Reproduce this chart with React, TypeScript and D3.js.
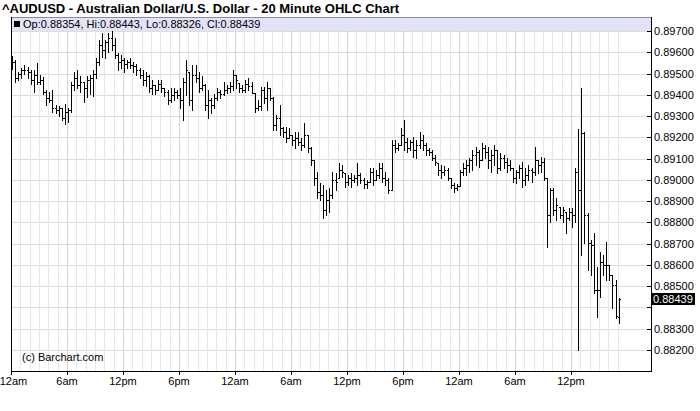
import React from 'react';
import * as d3 from 'd3';

const TITLE = '^AUDUSD - Australian Dollar/U.S. Dollar - 20 Minute OHLC Chart';
const LEGEND = 'Op:0.88354, Hi:0.88443, Lo:0.88326, Cl:0.88439';
const COPYRIGHT = '(c) Barchart.com';
const BAR_MINUTES = 20;
const LAST_PRICE = 0.88439;

const priceTicks = [0.897, 0.896, 0.895, 0.894, 0.893, 0.892, 0.891, 0.89, 0.889, 0.888, 0.887, 0.886, 0.885, 0.884, 0.883, 0.882];
const timeTickHours = [0, 6, 12, 18, 24, 30, 36, 42, 48, 54, 60];
const timeTickLabels = ['12am', '6am', '12pm', '6pm', '12am', '6am', '12pm', '6pm', '12am', '6am', '12pm'];

const opens = [
  0.89536,0.89555,0.89479,0.89498,0.89517,0.89517,0.89508,0.89470,0.89494,0.89461,0.89470,0.89414,
  0.89385,0.89376,0.89338,0.89329,0.89338,0.89291,0.89320,0.89329,0.89447,0.89479,0.89447,0.89461,
  0.89432,0.89470,0.89479,0.89498,0.89555,0.89635,0.89611,0.89649,0.89667,0.89635,0.89588,0.89555,
  0.89564,0.89545,0.89555,0.89541,0.89536,0.89517,0.89494,0.89470,0.89489,0.89432,0.89447,0.89423,
  0.89451,0.89432,0.89414,0.89376,0.89400,0.89414,0.89400,0.89376,0.89461,0.89508,0.89376,0.89494,
  0.89479,0.89432,0.89447,0.89353,0.89376,0.89353,0.89385,0.89414,0.89404,0.89423,0.89432,0.89442,
  0.89494,0.89456,0.89432,0.89423,0.89451,0.89442,0.89409,0.89338,0.89348,0.89423,0.89385,0.89432,
  0.89385,0.89259,0.89291,0.89244,0.89226,0.89197,0.89212,0.89188,0.89197,0.89179,0.89165,0.89212,
  0.89150,0.89094,0.89009,0.88944,0.88930,0.88859,0.88906,0.88930,0.89000,0.89009,0.89047,0.89033,
  0.88991,0.89009,0.89000,0.89009,0.89024,0.89000,0.88981,0.88991,0.89038,0.89000,0.89024,0.89056,
  0.89009,0.89000,0.88953,0.89165,0.89150,0.89165,0.89212,0.89179,0.89150,0.89179,0.89141,0.89165,
  0.89188,0.89165,0.89141,0.89132,0.89103,0.89080,0.89047,0.89038,0.89047,0.89009,0.88977,0.88962,
  0.88972,0.89038,0.89056,0.89071,0.89094,0.89118,0.89132,0.89094,0.89150,0.89132,0.89094,0.89118,
  0.89141,0.89056,0.89103,0.89085,0.89071,0.89056,0.89009,0.89038,0.89056,0.89000,0.89024,0.89047,
  0.89038,0.89094,0.89071,0.89085,0.89009,0.88836,0.88953,0.88859,0.88873,0.88836,0.88850,0.88821,
  0.88850,0.88836,0.89038,0.88953,0.89221,0.88836,0.88704,0.88695,0.88483,0.88483,0.88615,0.88601,
  0.88601,0.88554,0.88507,0.88354,
];

const highs = [
  0.89583,0.89564,0.89508,0.89526,0.89541,0.89531,0.89517,0.89517,0.89550,0.89494,0.89484,0.89423,
  0.89414,0.89423,0.89353,0.89348,0.89338,0.89357,0.89338,0.89461,0.89508,0.89517,0.89489,0.89461,
  0.89489,0.89494,0.89517,0.89573,0.89658,0.89691,0.89658,0.89691,0.89700,0.89667,0.89597,0.89588,
  0.89573,0.89564,0.89573,0.89555,0.89545,0.89526,0.89517,0.89508,0.89494,0.89470,0.89447,0.89470,
  0.89470,0.89432,0.89423,0.89432,0.89432,0.89423,0.89432,0.89479,0.89564,0.89508,0.89541,0.89541,
  0.89508,0.89489,0.89451,0.89423,0.89385,0.89404,0.89432,0.89423,0.89461,0.89447,0.89461,0.89517,
  0.89494,0.89456,0.89447,0.89470,0.89479,0.89461,0.89409,0.89376,0.89437,0.89437,0.89461,0.89432,
  0.89390,0.89306,0.89353,0.89249,0.89249,0.89244,0.89212,0.89226,0.89226,0.89197,0.89268,0.89212,
  0.89155,0.89094,0.89038,0.88986,0.88977,0.88953,0.88962,0.89038,0.89033,0.89080,0.89071,0.89033,
  0.89024,0.89033,0.89024,0.89080,0.89033,0.89009,0.89000,0.89056,0.89056,0.89047,0.89080,0.89080,
  0.89038,0.89009,0.89188,0.89188,0.89174,0.89244,0.89282,0.89197,0.89188,0.89202,0.89188,0.89226,
  0.89212,0.89174,0.89150,0.89141,0.89118,0.89080,0.89071,0.89066,0.89056,0.89009,0.88986,0.88981,
  0.89047,0.89080,0.89094,0.89103,0.89141,0.89155,0.89141,0.89174,0.89165,0.89155,0.89141,0.89165,
  0.89141,0.89127,0.89118,0.89103,0.89094,0.89056,0.89047,0.89071,0.89085,0.89056,0.89071,0.89056,
  0.89155,0.89094,0.89108,0.89103,0.89009,0.88962,0.88962,0.88915,0.88873,0.88873,0.88850,0.88868,
  0.88868,0.89056,0.89240,0.89432,0.89226,0.88845,0.88718,0.88751,0.88591,0.88662,0.88648,0.88709,
  0.88601,0.88554,0.88530,0.88443,
];

const lows = [
  0.89522,0.89461,0.89470,0.89479,0.89498,0.89479,0.89451,0.89414,0.89451,0.89451,0.89404,0.89353,
  0.89367,0.89320,0.89315,0.89301,0.89282,0.89263,0.89273,0.89320,0.89423,0.89432,0.89414,0.89367,
  0.89390,0.89404,0.89395,0.89479,0.89541,0.89578,0.89573,0.89602,0.89611,0.89573,0.89517,0.89526,
  0.89508,0.89526,0.89526,0.89508,0.89494,0.89479,0.89447,0.89442,0.89414,0.89404,0.89404,0.89423,
  0.89414,0.89395,0.89357,0.89367,0.89376,0.89385,0.89338,0.89282,0.89400,0.89353,0.89329,0.89461,
  0.89414,0.89423,0.89329,0.89291,0.89315,0.89338,0.89376,0.89385,0.89400,0.89409,0.89414,0.89423,
  0.89432,0.89414,0.89414,0.89414,0.89423,0.89409,0.89320,0.89329,0.89329,0.89362,0.89329,0.89376,
  0.89235,0.89235,0.89212,0.89202,0.89179,0.89197,0.89165,0.89150,0.89165,0.89141,0.89155,0.89132,
  0.89071,0.88977,0.88915,0.88906,0.88821,0.88836,0.88850,0.88915,0.88953,0.89009,0.89014,0.88967,
  0.88977,0.88967,0.88991,0.88977,0.88986,0.88962,0.88962,0.88991,0.88977,0.89000,0.89009,0.88991,
  0.88977,0.88939,0.88953,0.89132,0.89141,0.89165,0.89141,0.89132,0.89141,0.89108,0.89103,0.89150,
  0.89141,0.89118,0.89118,0.89094,0.89071,0.89024,0.89009,0.89024,0.89000,0.88962,0.88944,0.88953,
  0.88972,0.89024,0.89024,0.89038,0.89047,0.89071,0.89061,0.89094,0.89103,0.89056,0.89038,0.89071,
  0.89033,0.89047,0.89056,0.89038,0.89047,0.88991,0.88986,0.89009,0.88967,0.88977,0.89000,0.88991,
  0.89024,0.89033,0.89038,0.89000,0.88685,0.88803,0.88836,0.88812,0.88821,0.88803,0.88751,0.88812,
  0.88779,0.88803,0.88201,0.88648,0.88704,0.88577,0.88554,0.88469,0.88356,0.88450,0.88554,0.88530,
  0.88530,0.88398,0.88351,0.88326,
];

const closes = [
  0.89555,0.89479,0.89498,0.89517,0.89517,0.89508,0.89470,0.89494,0.89461,0.89470,0.89414,0.89385,
  0.89376,0.89338,0.89329,0.89338,0.89291,0.89320,0.89329,0.89447,0.89479,0.89447,0.89461,0.89432,
  0.89470,0.89479,0.89498,0.89555,0.89635,0.89611,0.89649,0.89667,0.89635,0.89588,0.89555,0.89564,
  0.89545,0.89555,0.89541,0.89536,0.89517,0.89494,0.89470,0.89489,0.89432,0.89447,0.89423,0.89451,
  0.89432,0.89414,0.89376,0.89400,0.89414,0.89400,0.89376,0.89461,0.89517,0.89376,0.89494,0.89479,
  0.89432,0.89447,0.89353,0.89376,0.89353,0.89385,0.89414,0.89404,0.89423,0.89432,0.89442,0.89494,
  0.89470,0.89432,0.89423,0.89451,0.89442,0.89409,0.89338,0.89348,0.89423,0.89385,0.89432,0.89385,
  0.89259,0.89291,0.89244,0.89226,0.89197,0.89212,0.89188,0.89197,0.89179,0.89165,0.89212,0.89150,
  0.89094,0.89009,0.88944,0.88930,0.88859,0.88906,0.88930,0.89000,0.88991,0.89047,0.89038,0.88991,
  0.89009,0.89000,0.89009,0.89024,0.89000,0.88981,0.88991,0.89038,0.89000,0.89024,0.89056,0.89009,
  0.89000,0.88953,0.89165,0.89150,0.89165,0.89212,0.89179,0.89150,0.89179,0.89141,0.89165,0.89188,
  0.89165,0.89141,0.89132,0.89103,0.89085,0.89047,0.89038,0.89047,0.89009,0.88977,0.88962,0.88972,
  0.89038,0.89056,0.89071,0.89094,0.89118,0.89132,0.89094,0.89150,0.89132,0.89094,0.89118,0.89141,
  0.89056,0.89103,0.89085,0.89071,0.89056,0.89009,0.89038,0.89056,0.89000,0.89024,0.89047,0.89038,
  0.89094,0.89071,0.89085,0.89009,0.88836,0.88953,0.88859,0.88883,0.88836,0.88859,0.88821,0.88850,
  0.88836,0.89038,0.88953,0.89221,0.88836,0.88704,0.88695,0.88483,0.88483,0.88615,0.88601,0.88601,
  0.88554,0.88507,0.88361,0.88439,
];

const FONT = '"Liberation Sans", Arial, Helvetica, sans-serif';

export default function App() {
  const W = 700;
  const H = 411;
  const left = 11;
  const right = 651;
  const top = 17;
  const bottom = 371;
  const bandBottom = 31;

  const x = d3.scaleLinear().domain([0, 60]).range([11, 571]);
  const y = d3.scaleLinear().domain([0.882, 0.897]).range([350, 31]);

  const bars = opens.map((o, i) => ({
    h: (i * BAR_MINUTES) / 60,
    o,
    hi: highs[i],
    lo: lows[i],
    c: closes[i],
  }));
  const lastHour = bars[bars.length - 1].h;
  const gridHours = d3.range(1, Math.floor(lastHour) + 1);

  const px = (v: number) => Math.round(v);

  return (
    <svg width={W} height={H} style={{ position: 'absolute', left: 0, top: 0, background: '#fff' }} fontFamily={FONT}>
      <rect x={0} y={0} width={W} height={H} fill="#fff" />
      <text x={2} y={13} fontSize={13} fontWeight="bold" fill="#000">{TITLE}</text>

      {/* horizontal grid */}
      {priceTicks.map((p) => (
        <line key={'hg' + p} x1={left} x2={right} y1={px(y(p)) + 0.5} y2={px(y(p)) + 0.5} stroke="#dddddd" strokeWidth={1} />
      ))}
      {/* vertical grid */}
      {gridHours.map((h) => (
        <line key={'vg' + h} x1={px(x(h)) + 0.5} x2={px(x(h)) + 0.5} y1={top} y2={bottom} stroke={h % 6 === 0 ? '#d2d2d2' : '#e6e6e6'} strokeWidth={1} />
      ))}

      {/* OHLC bars */}
      <g fill="#000" shapeRendering="crispEdges">
        {bars.map((b, i) => {
          const bx = px(x(b.h)) + 1;
          const yh = px(y(b.hi));
          const yl = px(y(b.lo));
          return (
            <g key={i}>
              <rect x={bx} y={yh} width={1} height={Math.max(1, yl - yh + 1)} />
              <rect x={bx - 1} y={px(y(b.o))} width={1} height={1} />
              <rect x={bx + 1} y={px(y(b.c))} width={1} height={1} />
            </g>
          );
        })}
      </g>

      {/* legend band */}
      <rect x={left} y={top} width={right - left} height={bandBottom - top} fill="#e2e2f8" />
      <line x1={left} x2={right} y1={top + 0.5} y2={top + 0.5} stroke="#8c8c8c" />
      <rect x={14} y={21} width={6} height={6} fill="#000" />
      <text x={23} y={28} fontSize={11} fill="#000">{LEGEND}</text>

      {/* axes */}
      <g stroke="#000" strokeWidth={1} shapeRendering="crispEdges">
        <line x1={left + 0.5} x2={left + 0.5} y1={top} y2={bottom + 1} />
        <line x1={right + 0.5} x2={right + 0.5} y1={top} y2={bottom + 1} />
        <line x1={left} x2={right + 1} y1={bottom + 0.5} y2={bottom + 0.5} />
        {priceTicks.map((p) => (
          <line key={'pt' + p} x1={right - 4} x2={right} y1={px(y(p)) + 0.5} y2={px(y(p)) + 0.5} />
        ))}
        {timeTickHours.map((h) => (
          <line key={'tt' + h} x1={px(x(h)) + 0.5} x2={px(x(h)) + 0.5} y1={bottom} y2={bottom + 4} />
        ))}
      </g>

      {/* price labels */}
      {priceTicks.map((p) =>
        Math.abs(y(p) - y(LAST_PRICE)) < 10 ? null : (
          <text key={'pl' + p} x={654} y={px(y(p)) + 4} fontSize={11} fill="#000">{p.toFixed(5)}</text>
        )
      )}
      <rect x={652} y={px(y(LAST_PRICE)) - 6} width={43} height={12} fill="#000" />
      <text x={653} y={px(y(LAST_PRICE)) + 4} fontSize={11} fill="#fff">{LAST_PRICE.toFixed(5)}</text>

      {/* time labels */}
      {timeTickHours.map((h, i) => (
        <text key={'tl' + h} x={Math.max(x(h), 13.5)} y={385} fontSize={11} textAnchor="middle" fill="#000">{timeTickLabels[i]}</text>
      ))}

      <text x={22} y={361} fontSize={11} fill="#000">{COPYRIGHT}</text>
    </svg>
  );
}
